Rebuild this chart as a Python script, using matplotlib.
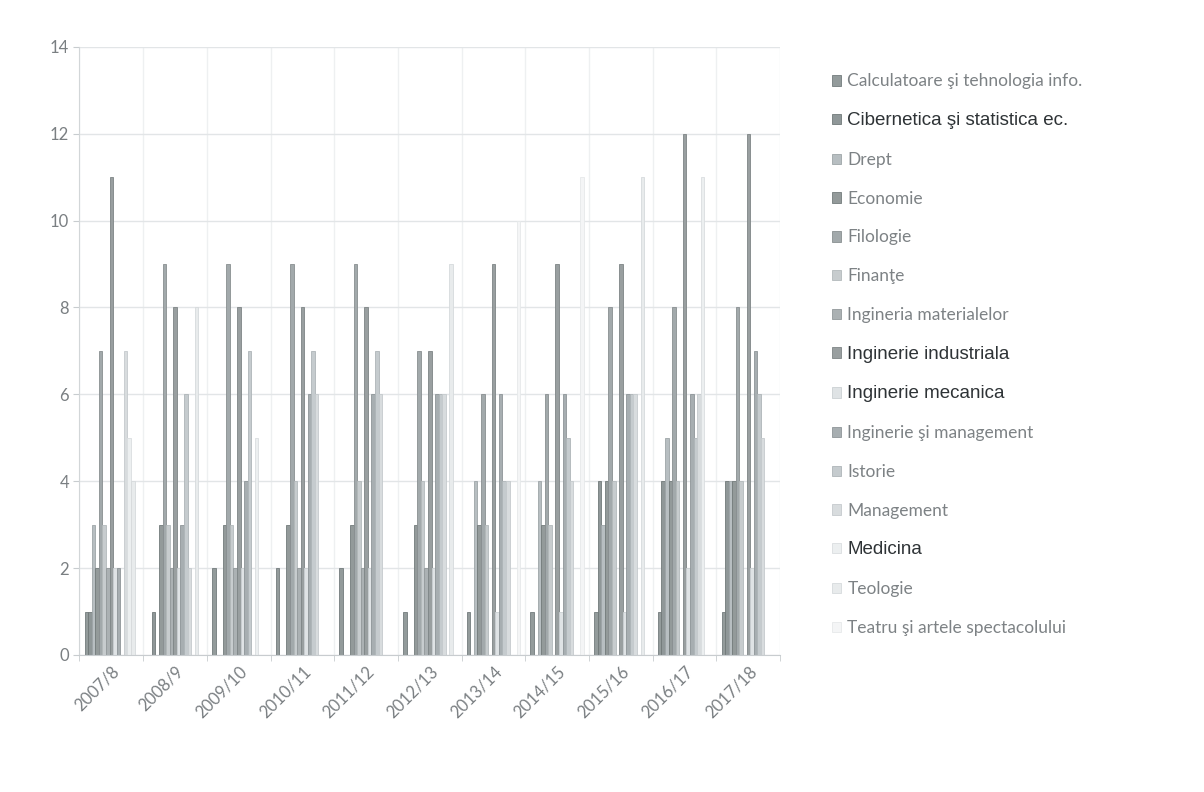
import matplotlib.pyplot as plt
import numpy as np

years = ["2007/8", "2008/9", "2009/10", "2010/11", "2011/12", "2012/13",
         "2013/14", "2014/15", "2015/16", "2016/17", "2017/18"]

series_names = [
    "Calculatoare şi tehnologia info.",
    "Cibernetica şi statistica ec.",
    "Drept",
    "Economie",
    "Filologie",
    "Finanţe",
    "Ingineria materialelor",
    "Inginerie industriala",
    "Inginerie mecanica",
    "Inginerie şi management",
    "Istorie",
    "Management",
    "Medicina",
    "Teologie",
    "Teatru şi artele spectacolului",
]

calc = [1, 0, 2, 2, 2, 1, 1, 1, 1, 1, 1]
ciber = [1, 1, 0, 0, 0, 0, 0, 0, 4, 4, 4]
drept = [3, 0, 0, 0, 0, 0, 4, 4, 3, 5, 4]
economie = [2, 3, 3, 3, 3, 3, 3, 3, 4, 4, 4]
filologie = [7, 9, 9, 9, 9, 7, 6, 6, 8, 8, 8]
finante = [3, 3, 3, 4, 4, 4, 3, 3, 4, 4, 4]
ing_mat = [2, 2, 2, 2, 2, 2, 0, 0, 0, 0, 0]
ing_ind = [11, 8, 8, 8, 8, 7, 9, 9, 9, 12, 12]
ing_mec = [2, 2, 2, 2, 2, 2, 1, 1, 1, 2, 2]
ing_mgmt = [2, 3, 4, 6, 6, 6, 6, 6, 6, 6, 7]
istorie = [0, 6, 7, 7, 7, 6, 4, 5, 6, 5, 6]
management = [7, 2, 0, 6, 6, 6, 4, 4, 6, 6, 5]
medicina = [5, 0, 5, 0, 0, 0, 0, 0, 0, 11, 0]
teologie = [4, 8, 0, 0, 0, 9, 0, 0, 11, 0, 0]
teatru = [0, 0, 0, 0, 0, 0, 10, 11, 0, 0, 0]

values = [calc, ciber, drept, economie, filologie, finante, ing_mat, ing_ind,
          ing_mec, ing_mgmt, istorie, management, medicina, teologie, teatru]

colors = ["#939b9b", "#8f9798", "#b7bec1", "#939a9a", "#a2a9ab", "#c7ccce",
          "#abb1b3", "#999fa0", "#dfe3e5", "#a7aeb1", "#c5cbce", "#d8dcde",
          "#eceff0", "#e8ebec", "#f4f5f6"]
edges = ["#737b7c", "#717979", "#9ea5a8", "#737b7b", "#898f91", "#b3b9bb",
         "#92989a", "#7e8586", "#cbd0d3", "#8e9598", "#aeb5b8", "#c5cacd",
         "#dadee0", "#d6dadc", "#e6e9ea"]
# legend entries drawn in a darker, Arial-like font in the original
dark_labels = {1, 7, 8, 12}

fig = plt.figure(figsize=(12.04, 7.92), dpi=100)
ax = fig.add_axes([0.066, 0.173, 0.582, 0.768])

x = np.arange(len(years))
n = len(values)
w = 0.84 / n
for i, (vals, c, ec) in enumerate(zip(values, colors, edges)):
    ax.bar(x + (i - (n - 1) / 2) * w, vals, w, color=c, edgecolor=ec,
           linewidth=0.6, label=series_names[i], zorder=2)

ax.set_xlim(-0.5, len(years) - 0.5)
ax.set_ylim(0, 14)
ax.set_yticks(range(0, 15, 2))
ax.set_xticks(x)
ax.set_xticklabels(years, rotation=45, ha="right", rotation_mode="anchor")
ax.set_xticks(np.arange(-0.5, len(years), 1), minor=True)
ax.grid(axis="y", color="#e2e5e7", linewidth=1.0, zorder=0)
ax.grid(axis="x", which="minor", color="#eef0f1", linewidth=1.0, zorder=0)
ax.tick_params(axis="x", which="major", length=0, pad=6)
ax.tick_params(axis="x", which="minor", length=4, color="#c8cccf")
ax.tick_params(axis="y", length=4, color="#c8cccf")
for lbl in ax.get_xticklabels() + ax.get_yticklabels():
    lbl.set_color("#7a7f82")
    lbl.set_fontsize(12)
    lbl.set_family("Lato")
for s in ["top", "right"]:
    ax.spines[s].set_visible(False)
ax.spines["left"].set_color("#d2d6d8")
ax.spines["bottom"].set_color("#c8cccf")

leg = ax.legend(loc="upper left", bbox_to_anchor=(0.685, 0.916),
                bbox_transform=fig.transFigure, frameon=False,
                fontsize=12.5, handlelength=0.55, handleheight=0.55,
                handletextpad=0.35, labelspacing=1.31, borderaxespad=0)
for i, t in enumerate(leg.get_texts()):
    if i in dark_labels:
        t.set_family("Liberation Sans")
        t.set_color("#2e3336")
        t.set_fontsize(13.5)
    else:
        t.set_family("Lato")
        t.set_color("#7d8285")

fig.savefig("out.png", dpi=100, facecolor="white")
